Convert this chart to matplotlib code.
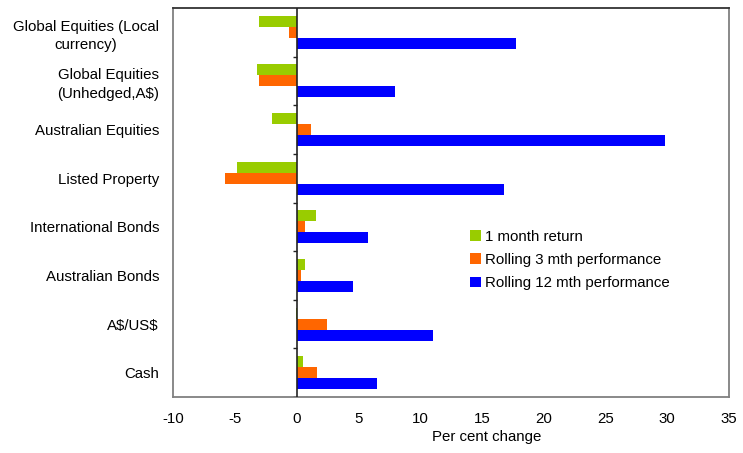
import matplotlib
matplotlib.use("Agg")
from matplotlib import pyplot as plt
import numpy as np

plt.rcParams['font.family'] = ['Liberation Sans', 'DejaVu Sans']
plt.rcParams['axes.unicode_minus'] = False

# Asset classes, top to bottom
categories = ["Global Equities (Local\ncurrency)", "Global Equities\n(Unhedged,A\\$)",
              "Australian Equities", "Listed Property", "International Bonds",
              "Australian Bonds", "A\\$/US\\$", "Cash"]

# Returns in per cent
one_month = [-3.0, -3.2, -2.0, -4.8, 1.6, 0.7, -0.05, 0.55]
rolling_3m = [-0.6, -3.0, 1.2, -5.8, 0.7, 0.35, 2.45, 1.65]
rolling_12m = [17.8, 8.0, 29.8, 16.8, 5.75, 4.6, 11.05, 6.5]

series_names = ["1 month return", "Rolling 3 mth performance", "Rolling 12 mth performance"]
colors = ["#99CC00", "#FF6600", "#0000FF"]

FS = 10.8

fig = plt.figure(figsize=(7.43, 4.53), dpi=100)
ax = fig.add_axes([0.2328, 0.1236, 0.7484, 0.8587])

y = np.arange(len(categories))
h = 0.226
for i, (vals, name, col) in enumerate(zip([one_month, rolling_3m, rolling_12m], series_names, colors)):
    ax.barh(y + (i - 1) * h, vals, height=h, color=col, label=name, linewidth=0)

# zero line with small ticks at category boundaries
ax.axvline(0, color="#222222", linewidth=1.2, zorder=3)
bounds = np.arange(0.5, len(categories) + 0.5, 1.0)
ax.hlines(bounds, -0.3, 0, color="#222222", linewidth=1.0, zorder=3)

ax.set_xlim(-10, 35)
ax.set_ylim(len(categories) - 0.5, -0.5)
ax.set_xticks(np.arange(-10, 36, 5))
ax.set_yticks(y)
ax.set_yticklabels(categories, multialignment="center", linespacing=1.4)
ax.tick_params(axis="both", length=0, labelsize=FS)
ax.tick_params(axis="y", pad=10)
ax.tick_params(axis="x", pad=11)

for s in ["left", "right", "bottom"]:
    ax.spines[s].set_color("#808080")
    ax.spines[s].set_linewidth(1.3)
ax.spines["top"].set_color("#333333")
ax.spines["top"].set_linewidth(1.3)

ax.set_xlabel("Per cent change", fontsize=FS)
ax.xaxis.set_label_coords(0.565, -0.085)

ax.legend(loc="upper left", bbox_to_anchor=(0.51, 0.465), frameon=False, fontsize=FS,
          handlelength=0.7, handleheight=0.7, handletextpad=0.3, labelspacing=0.62)

fig.savefig("out.png", dpi=100)
